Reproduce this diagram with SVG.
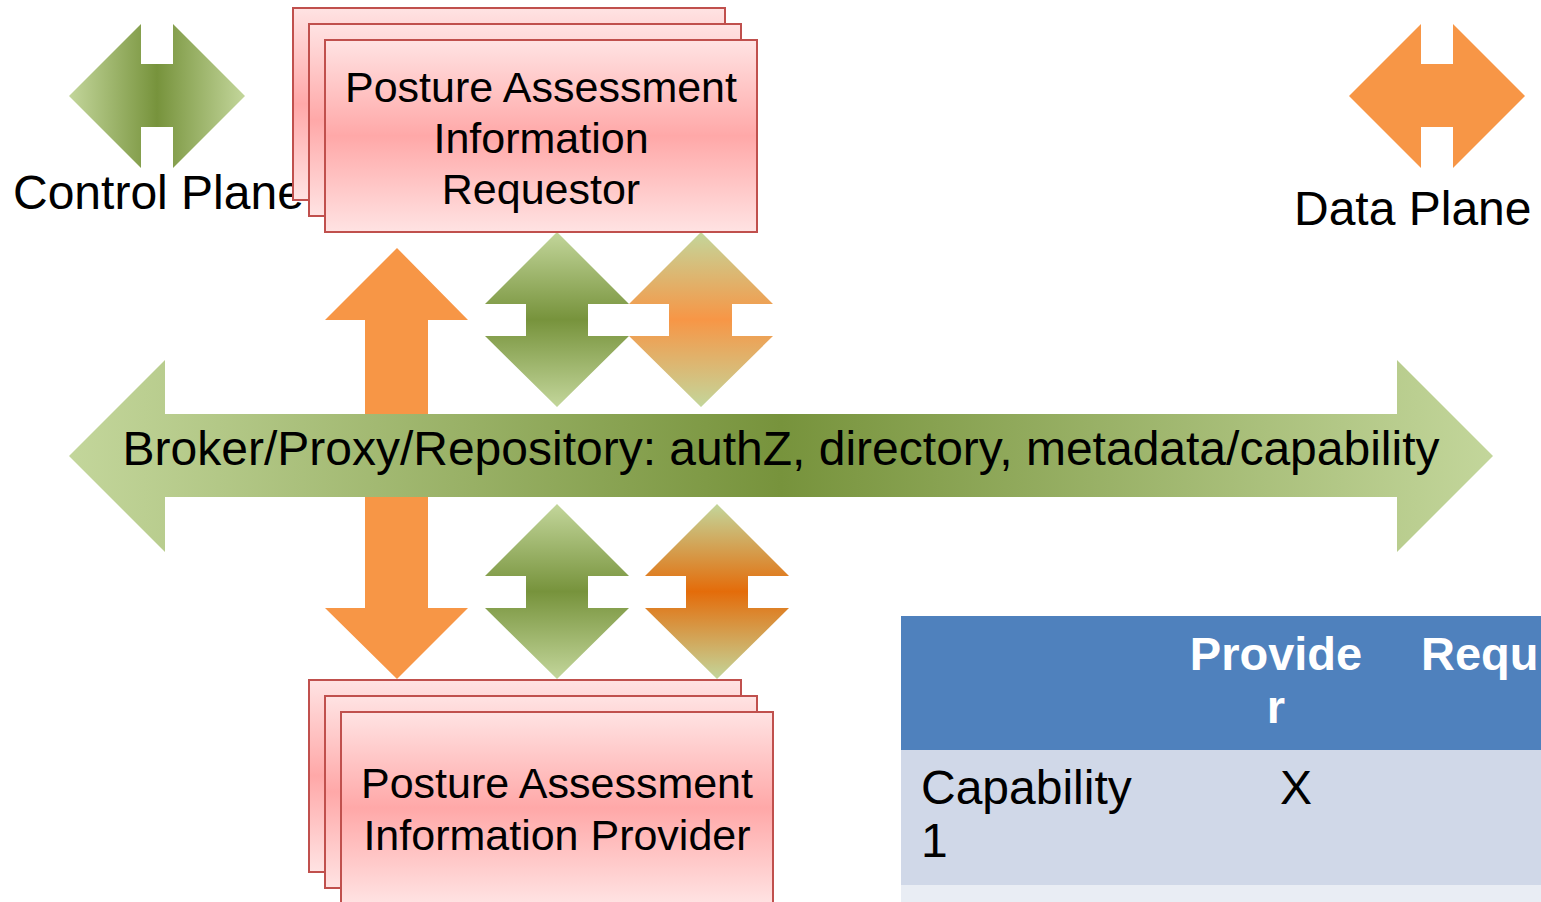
<svg xmlns="http://www.w3.org/2000/svg" width="1541" height="902" viewBox="0 0 1541 902">
<defs>
<linearGradient id="gH" x1="0" y1="0" x2="1" y2="0">
<stop offset="0" stop-color="#c3d69b"/><stop offset="0.5" stop-color="#77933c"/><stop offset="1" stop-color="#c3d69b"/>
</linearGradient>
<linearGradient id="gV" x1="0" y1="0" x2="0" y2="1">
<stop offset="0" stop-color="#c3d69b"/><stop offset="0.5" stop-color="#77933c"/><stop offset="1" stop-color="#c3d69b"/>
</linearGradient>
<linearGradient id="oV" x1="0" y1="0" x2="0" y2="1">
<stop offset="0" stop-color="#c3d69b"/><stop offset="0.5" stop-color="#f79646"/><stop offset="1" stop-color="#c3d69b"/>
</linearGradient>
<linearGradient id="o2V" x1="0" y1="0" x2="0" y2="1">
<stop offset="0" stop-color="#c3d69b"/><stop offset="0.5" stop-color="#e46c0a"/><stop offset="1" stop-color="#c3d69b"/>
</linearGradient>
<linearGradient id="pink" x1="0" y1="0" x2="0" y2="1">
<stop offset="0" stop-color="#ffe3e3"/><stop offset="0.5" stop-color="#ffa8a8"/><stop offset="1" stop-color="#ffe3e3"/>
</linearGradient>
</defs>
<style>
.box{fill:url(#pink);stroke:#c0504d;stroke-width:2}
.t{font-family:"Liberation Sans",Arial,sans-serif;fill:#000}
.big{font-size:48px}
.node{font-size:43px;text-anchor:middle}
.hdr{font-family:"Liberation Sans",Arial,sans-serif;font-size:47px;font-weight:bold;fill:#fff}
</style>

<g id="legend-control">
<polygon points="69,96 141,24 141,64 173,64 173,24 245,96 173,168 173,127 141,127 141,168" fill="url(#gH)"/>
<text class="t big" x="13" y="209">Control Plane</text>
</g>

<g id="legend-data">
<polygon points="1349,96 1421,24 1421,64 1453,64 1453,24 1525,96 1453,168 1453,127 1421,127 1421,168" fill="#f79646"/>
<text class="t big" x="1294" y="225">Data Plane</text>
</g>

<g id="connectors">
<polygon points="397,248 468,320 428,320 428,608 468,608 397,679 325,608 365,608 365,320 325,320" fill="#f79646"/>
<polygon points="557,232 629,304 588,304 588,336 629,336 557,407 485,336 526,336 526,304 485,304" fill="url(#gV)"/>
<polygon points="701,232 773,304 732,304 732,336 773,336 701,407 629,336 669,336 669,304 629,304" fill="url(#oV)"/>
<polygon points="557,504 629,576 588,576 588,608 629,608 557,679 485,608 526,608 526,576 485,576" fill="url(#gV)"/>
<polygon points="717,504 789,576 748,576 748,608 789,608 717,679 645,608 686,608 686,576 645,576" fill="url(#o2V)"/>
</g>

<g id="broker">
<polygon points="69,456 165,360 165,414 1397,414 1397,360 1493,456 1397,552 1397,497 165,497 165,552" fill="url(#gH)"/>
<text class="t big" x="781" y="465" text-anchor="middle">Broker/Proxy/Repository: authZ, directory, metadata/capability</text>
</g>

<g id="requestor">
<rect class="box" x="293" y="8" width="432" height="192"/>
<rect class="box" x="309" y="24" width="432" height="192"/>
<rect class="box" x="325" y="40" width="432" height="192"/>
<text class="t node" x="541" y="102">Posture Assessment</text>
<text class="t node" x="541" y="153">Information</text>
<text class="t node" x="541" y="204">Requestor</text>
</g>

<g id="provider">
<rect class="box" x="309" y="680" width="432" height="192"/>
<rect class="box" x="325" y="696" width="432" height="192"/>
<rect class="box" x="341" y="712" width="432" height="192"/>
<text class="t node" x="557" y="798">Posture Assessment</text>
<text class="t node" x="557" y="850">Information Provider</text>
</g>

<g id="table">
<rect x="901" y="616" width="640" height="134" fill="#4f81bd"/>
<rect x="901" y="750" width="640" height="135" fill="#d0d8e8"/>
<rect x="901" y="885" width="640" height="17" fill="#e9edf4"/>
<text class="hdr" x="1276" y="670" text-anchor="middle">Provide</text>
<text class="hdr" x="1276" y="723" text-anchor="middle">r</text>
<text class="hdr" x="1421" y="670">Requ</text>
<text class="t big" x="921" y="804">Capability</text>
<text class="t big" x="921" y="857">1</text>
<text class="t big" x="1296" y="804" text-anchor="middle">X</text>
</g>
</svg>
